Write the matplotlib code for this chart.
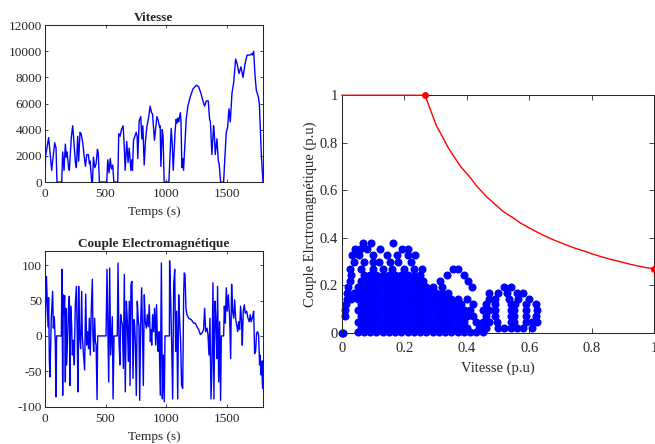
import matplotlib
matplotlib.use("Agg")
from matplotlib import pyplot as plt

# Vitesse (tr/min) vs temps (s)
t_speed = [0, 5, 30, 55, 80, 91, 99, 138, 146, 157, 168, 176, 182, 196, 201, 218, 229, 251, 259, 270,
           278, 289, 298, 312, 323, 334, 345, 358, 367, 372, 386, 392, 400, 411, 422, 433, 440, 449, 510, 518,
           529, 538, 549, 560, 568, 601, 609, 620, 631, 645, 653, 662, 675, 686, 695, 703, 709, 717, 722, 731,
           742, 753, 761, 766, 778, 791, 800, 808, 819, 830, 841, 857, 868, 880, 888, 904, 913, 924, 935, 946,
           951, 957, 968, 975, 984, 1023, 1042, 1050, 1059, 1075, 1083, 1090, 1097, 1105, 1117, 1123, 1130, 1137, 1144, 1155,
           1166, 1180, 1199, 1221, 1249, 1268, 1287, 1304, 1318, 1332, 1348, 1359, 1366, 1378, 1392, 1398, 1406, 1420, 1431, 1438,
           1450, 1475, 1483, 1497, 1508, 1519, 1530, 1544, 1558, 1574, 1585, 1602, 1618, 1635, 1651, 1668, 1690, 1707, 1712, 1723,
           1734, 1745, 1762, 1770, 1787, 1800]
speed = [0, 2000, 3400, 900, 3000, 2600, 0, 0, 2300, 900, 2900, 1900, 2300, 1000, 900, 3500, 4300, 1500, 1100, 3500,
         1600, 3800, 3700, 3000, 2000, 1200, 2100, 2100, 1400, 1600, 0, 0, 1900, 1100, 1400, 2500, 2200, 0, 0, 1700,
         700, 1800, 1000, 1300, 0, 0, 3700, 3500, 4000, 4300, 3000, 900, 3100, 1500, 2600, 1700, 900, 1700, 900, 3200,
         3500, 3800, 3500, 1800, 4700, 5000, 3300, 4300, 1300, 3200, 4200, 5000, 5800, 5300, 5200, 3200, 4000, 5000, 4700, 4200,
         4300, 1200, 4000, 3500, 0, 0, 4100, 3000, 900, 4000, 4800, 4500, 4900, 4600, 5300, 4700, 1100, 1800, 900, 2800,
         4800, 5800, 6500, 7100, 7400, 7300, 6800, 6200, 5800, 6200, 6200, 4800, 4600, 2100, 4300, 3700, 2100, 3300, 1600, 1400,
         0, 0, 1500, 3800, 4200, 5600, 4600, 6800, 7600, 9400, 9100, 8300, 8800, 8000, 9000, 9700, 9700, 9800, 9700, 10000,
         8200, 7000, 6500, 6000, 2000, 0]

# Couple electromagnetique (N.m) vs temps (s)
t_torque = [0, 12, 25, 30, 36, 41, 52, 63, 69, 77,
            85, 91, 96, 135, 140, 146, 151, 157, 162, 168,
            173, 179, 190, 195, 201, 206, 212, 220, 226, 234,
            242, 250, 259, 267, 272, 278, 286, 294, 303, 308,
            316, 327, 336, 344, 352, 360, 366, 374, 382, 391,
            396, 402, 410, 416, 422, 430, 435, 504, 512, 520,
            526, 534, 542, 548, 556, 562, 570, 597, 603, 611,
            619, 625, 633, 639, 647, 655, 663, 672, 680, 688,
            696, 702, 710, 718, 727, 735, 740, 746, 754, 762,
            771, 776, 782, 790, 798, 804, 812, 820, 828, 837,
            845, 853, 861, 870, 875, 881, 889, 897, 905, 914,
            921, 929, 935, 942, 952, 961, 969, 977, 985, 991,
            1027, 1029, 1038, 1046, 1054, 1063, 1071, 1079, 1087, 1096,
            1104, 1112, 1120, 1128, 1137, 1145, 1150, 1156, 1164, 1172,
            1186, 1208, 1228, 1241, 1255, 1269, 1283, 1296, 1310, 1318,
            1327, 1338, 1346, 1354, 1362, 1371, 1379, 1387, 1395, 1404,
            1412, 1420, 1425, 1434, 1442, 1450, 1456, 1475, 1481, 1489,
            1497, 1505, 1514, 1525, 1533, 1541, 1549, 1558, 1566, 1574,
            1582, 1591, 1599, 1607, 1615, 1624, 1629, 1637, 1646, 1654,
            1665, 1676, 1687, 1695, 1703, 1714, 1723, 1731, 1739, 1747,
            1756, 1764, 1772, 1777, 1783, 1788, 1797, 1800]
torque = [0, 84, 13, 54, -35, -58, 25, 63, 11, 27,
          -10, -86, 0, 0, 94, -84, 58, 30, 57, -65,
          39, -41, 20, 44, 56, -70, 42, 16, -27, -6,
          -41, 44, 70, -8, -79, 70, -3, -18, 63, 1,
          -22, -48, 59, -13, 6, -18, 25, -27, 37, 80,
          1, -22, 25, -8, -13, -90, 0, 0, 94, -3,
          -65, 96, -27, -3, 27, -89, 0, 0, 103, -8,
          -41, 30, 20, 16, -46, 87, -79, 49, 20, -36,
          49, -70, 73, 77, -60, 23, 16, -8, -84, 49,
          20, 13, -91, 18, 68, 16, -70, 58, 20, 11,
          30, 13, 44, -8, 9, -13, 30, 6, 39, -13,
          44, -10, -22, 6, -84, 103, -89, -27, -93, 0,
          0, 106, 49, -13, -89, 73, 94, -22, 35, -89,
          58, 20, -8, -70, -74, 58, 89, 87, 39, 30,
          25, 23, 18, 18, 13, 9, 2, 4, 9, 39,
          6, 11, 1, -27, 25, -89, -41, 75, -89, 49,
          20, -32, 70, -65, 20, -91, 0, 0, 42, 18,
          68, 35, 58, 25, -32, 73, 35, 25, 51, 25,
          16, 6, 20, 9, 42, 18, -13, 35, 44, 32,
          35, 25, 20, 30, 20, 27, 35, -25, -22, 4,
          6, 1, -41, -27, -55, -36, -74, -35]

# Enveloppe couple-vitesse (p.u)
env_speed = [0, 0.266, 0.28, 0.29, 0.303, 0.32, 0.34, 0.357, 0.38, 0.41, 0.43, 0.464, 0.50, 0.517, 0.55,
             0.571, 0.60, 0.624, 0.65, 0.677, 0.70, 0.731, 0.75, 0.784, 0.80, 0.838, 0.86, 0.891, 0.92,
             0.944, 0.97, 1.0]
env_torque = [1, 1, 0.95, 0.915, 0.87, 0.83, 0.78, 0.745, 0.70, 0.655, 0.62, 0.572, 0.53, 0.51, 0.483,
              0.463, 0.442, 0.425, 0.408, 0.392, 0.38, 0.364, 0.355, 0.341, 0.333, 0.318, 0.31, 0.3, 0.29,
              0.283, 0.276, 0.27]
corner_speed = [0.266, 1.0]
corner_torque = [1.0, 0.27]

# Points de fonctionnement (p.u), lus par niveaux de couple
op_levels = [0.0, 0.003, 0.02, 0.045, 0.07, 0.095, 0.12, 0.145, 0.17, 0.195,
             0.22, 0.245, 0.268, 0.30, 0.33, 0.355, 0.38]
op_rows = [
    [0.0, 0.003],
    [0.05, 0.07, 0.09, 0.11, 0.13, 0.15, 0.17, 0.19, 0.21, 0.23, 0.25, 0.27, 0.29, 0.31, 0.33, 0.35, 0.37, 0.39,
     0.41, 0.43, 0.45],
    [0.06, 0.08, 0.10, 0.12, 0.14, 0.16, 0.18, 0.20, 0.22, 0.24, 0.26, 0.28, 0.30, 0.32, 0.34, 0.36, 0.38, 0.40,
     0.44, 0.46, 0.50, 0.52, 0.54, 0.56, 0.58, 0.607],
    [0.05, 0.07, 0.09, 0.11, 0.13, 0.15, 0.17, 0.19, 0.21, 0.23, 0.25, 0.27, 0.29, 0.31, 0.33, 0.35, 0.37, 0.39,
     0.43, 0.45, 0.47, 0.495, 0.54, 0.55, 0.59, 0.61, 0.625],
    [0.01, 0.06, 0.08, 0.10, 0.12, 0.14, 0.16, 0.18, 0.20, 0.22, 0.24, 0.26, 0.28, 0.30, 0.32, 0.34, 0.36, 0.38,
     0.40, 0.42, 0.46, 0.49, 0.54, 0.55, 0.59, 0.62],
    [0.01, 0.05, 0.07, 0.09, 0.11, 0.13, 0.15, 0.17, 0.19, 0.21, 0.23, 0.25, 0.27, 0.29, 0.31, 0.33, 0.35, 0.37,
     0.39, 0.41, 0.45, 0.47, 0.49, 0.54, 0.55, 0.59, 0.625],
    [0.012, 0.06, 0.08, 0.10, 0.12, 0.14, 0.16, 0.18, 0.20, 0.22, 0.24, 0.26, 0.28, 0.30, 0.32, 0.34, 0.36, 0.38,
     0.42, 0.46, 0.49, 0.54, 0.555, 0.59, 0.62],
    [0.015, 0.03, 0.05, 0.07, 0.09, 0.11, 0.13, 0.15, 0.17, 0.19, 0.21, 0.23, 0.25, 0.27, 0.29, 0.31, 0.33, 0.35,
     0.37, 0.40, 0.47, 0.49, 0.535, 0.565, 0.60],
    [0.015, 0.04, 0.06, 0.08, 0.10, 0.12, 0.14, 0.16, 0.18, 0.20, 0.22, 0.24, 0.26, 0.28, 0.30, 0.32, 0.34,
     0.47, 0.50, 0.53, 0.56, 0.58],
    [0.02, 0.05, 0.07, 0.09, 0.11, 0.13, 0.15, 0.17, 0.19, 0.21, 0.23, 0.25, 0.27, 0.29, 0.32, 0.415, 0.52, 0.54],
    [0.025, 0.06, 0.08, 0.10, 0.12, 0.14, 0.16, 0.18, 0.20, 0.22, 0.24, 0.26, 0.314, 0.405],
    [0.03, 0.07, 0.09, 0.11, 0.13, 0.15, 0.17, 0.19, 0.21, 0.23, 0.25, 0.335, 0.39],
    [0.026, 0.06, 0.10, 0.13, 0.16, 0.20, 0.23, 0.255, 0.357, 0.373],
    [0.04, 0.07, 0.10, 0.12, 0.155, 0.18, 0.22],
    [0.031, 0.055, 0.10, 0.143, 0.175, 0.21, 0.234],
    [0.042, 0.058, 0.08, 0.122, 0.191, 0.213],
    [0.068, 0.093, 0.164],
]

op_speed = []
op_torque = []
for level, row in zip(op_levels, op_rows):
    for s in row:
        op_speed.append(s)
        op_torque.append(level)

plt.rcParams["font.family"] = ["Liberation Serif", "DejaVu Serif"]
plt.rcParams["axes.unicode_minus"] = False
plt.rcParams["axes.linewidth"] = 0.75
plt.rcParams["xtick.direction"] = "in"
plt.rcParams["ytick.direction"] = "in"
plt.rcParams["xtick.top"] = True
plt.rcParams["ytick.right"] = True
plt.rcParams["xtick.major.size"] = 2.5
plt.rcParams["ytick.major.size"] = 2.5
plt.rcParams["xtick.major.width"] = 0.6
plt.rcParams["ytick.major.width"] = 0.6
dark = "#262626"
plt.rcParams["text.color"] = dark
plt.rcParams["axes.labelcolor"] = dark
plt.rcParams["xtick.color"] = dark
plt.rcParams["ytick.color"] = dark
plt.rcParams["axes.edgecolor"] = dark

fig = plt.figure(figsize=(6.55, 4.44), dpi=100)

ax1 = fig.add_axes([0.0687, 0.590, 0.3328, 0.3536])
ax1.plot(t_speed, speed, color="#0000ff", lw=1.0)
ax1.set_xlim(0, 1800)
ax1.set_ylim(0, 12000)
ax1.set_xticks([0, 500, 1000, 1500])
ax1.set_yticks([0, 2000, 4000, 6000, 8000, 10000, 12000])
ax1.set_title("Vitesse", fontsize=9.5, fontweight="bold", pad=3)
ax1.set_xlabel("Temps (s)", fontsize=9.5, labelpad=4)
ax1.tick_params(labelsize=9.5, pad=2)
ax1.tick_params(axis="x", pad=4.5)

ax2 = fig.add_axes([0.0687, 0.084, 0.3328, 0.3507])
ax2.plot(t_torque, torque, color="#0000ff", lw=1.0)
ax2.set_xlim(0, 1800)
ax2.set_ylim(-100, 120)
ax2.set_xticks([0, 500, 1000, 1500])
ax2.set_yticks([-100, -50, 0, 50, 100])
ax2.set_title("Couple Electromagnétique", fontsize=9.5, fontweight="bold", pad=3)
ax2.set_xlabel("Temps (s)", fontsize=9.5, labelpad=4)
ax2.tick_params(labelsize=9.5, pad=2)
ax2.tick_params(axis="x", pad=4.5)

ax3 = fig.add_axes([0.5221, 0.25, 0.4768, 0.5354])
ax3.plot(env_speed, env_torque, color="#ff0000", lw=1.0, clip_on=False, zorder=3)
ax3.plot(corner_speed, corner_torque, "o", color="#ff0000", ms=5, mew=0, clip_on=False, zorder=4)
ax3.plot(op_speed, op_torque, "o", color="#0000ff", ms=5.8, mew=0, clip_on=False, zorder=2)
ax3.set_xlim(0, 1)
ax3.set_ylim(0, 1)
ax3.set_xticks([0, 0.2, 0.4, 0.6, 0.8, 1])
ax3.set_yticks([0, 0.2, 0.4, 0.6, 0.8, 1])
ax3.set_xticklabels(["0", "0.2", "0.4", "0.6", "0.8", "1"])
ax3.set_yticklabels(["0", "0.2", "0.4", "0.6", "0.8", "1"])
ax3.set_xlabel("Vitesse (p.u)", fontsize=10.5, labelpad=5)
ax3.set_ylabel("Couple Elrctromagnétique (p.u)", fontsize=10.5, labelpad=2)
ax3.tick_params(labelsize=10.5, pad=3, length=3.5)
ax3.tick_params(axis="x", pad=6.5)

fig.savefig("out.png", dpi=100)
